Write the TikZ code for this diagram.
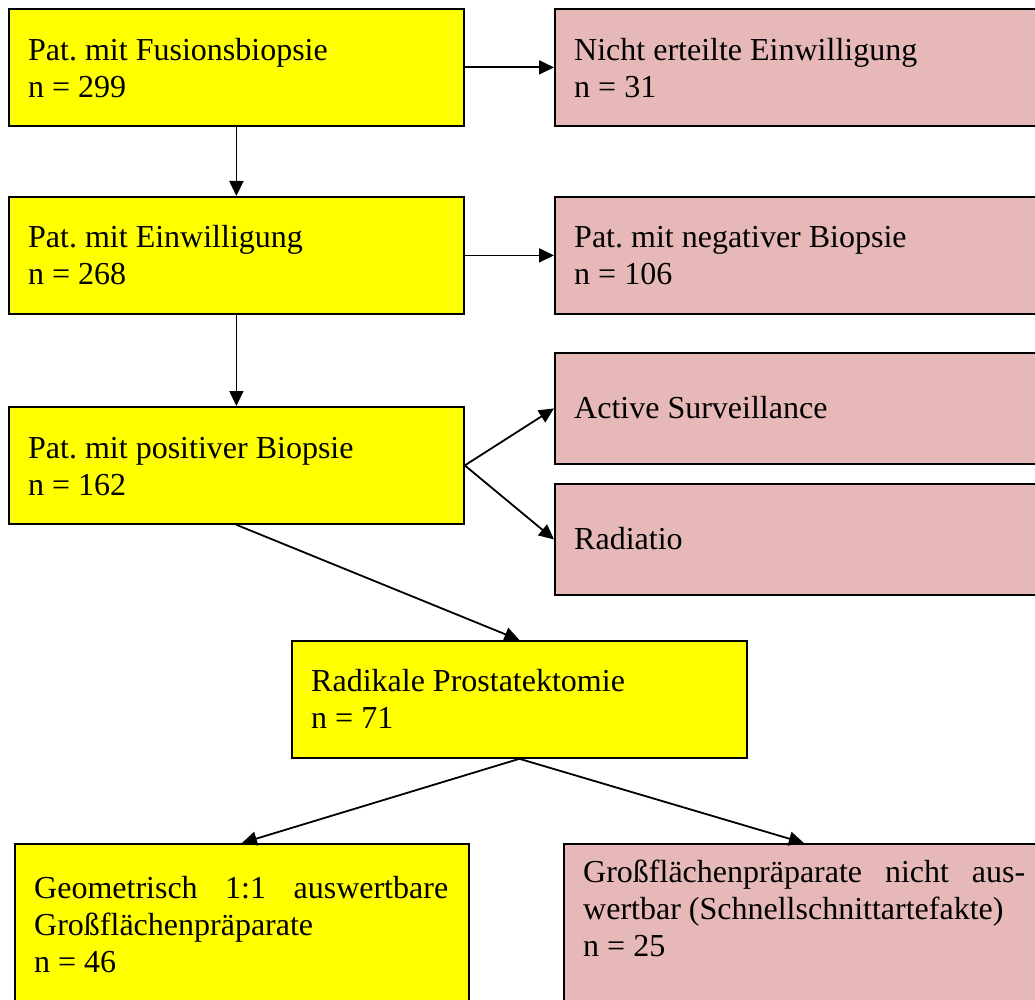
\documentclass[tikz,border=0pt]{standalone}
\usepackage{fontspec}
\setmainfont{Liberation Serif}
\usetikzlibrary{arrows.meta}
\definecolor{boxyellow}{HTML}{FFFF00}
\definecolor{boxpink}{HTML}{E6B8B7}
\newcommand{\plainsp}{\frenchspacing\spaceskip=0pt\xspaceskip=0pt\strut}
\begin{document}
\begin{tikzpicture}[x=1pt,y=-1pt,
  box/.style={draw=black, line width=1.8pt, anchor=north west, inner sep=0pt, minimum height=117pt},
  ybox/.style={box, fill=boxyellow, minimum width=455pt},
  pbox/.style={box, fill=boxpink, minimum width=491pt},
  txt/.style={anchor=north west, inner sep=0pt, align=left, text width=440pt, font=\fontsize{32pt}{37pt}\selectfont},
  arr/.style={line width=1.8pt, -{Triangle[length=15pt,width=14pt]}}]
\useasboundingbox (0,0) rectangle (1035,1000);
\clip (0,0) rectangle (1035,1000);
% boxes
\node[ybox] (b1) at (8,8) {};
\node[pbox] (b2) at (554,8) {};
\node[ybox] (b3) at (8,196) {};
\node[pbox] (b4) at (554,196) {};
\node[ybox] (b5) at (8,406) {};
\node[pbox, minimum height=111pt] (b6) at (554,352) {};
\node[pbox, minimum height=111pt] (b7) at (554,483) {};
\node[ybox] (b8) at (291,640) {};
\node[ybox, minimum width=454pt, minimum height=172pt] (b9) at (14,843) {};
\node[pbox, minimum width=480pt, minimum height=172pt] (b10) at (563,843) {};
% texts (first baseline minus 25.9pt strut height)
\node[txt] (t1) at (28,34.1) {\plainsp Pat. mit Fusionsbiopsie\\n = 299};
\node[txt] (t2) at (574,34.1) {\plainsp Nicht erteilte Einwilligung\\n = 31};
\node[txt] (t3) at (28,221.1) {\plainsp Pat. mit Einwilligung\\n = 268};
\node[txt] (t4) at (574,221.1) {\plainsp Pat. mit negativer Biopsie\\n = 106};
\node[txt] (t5) at (28,432.1) {\plainsp Pat. mit positiver Biopsie\\n = 162};
\node[txt] (t6) at (574,392.1) {\plainsp Active Surveillance};
\node[txt] (t7) at (574,523.1) {\plainsp Radiatio};
\node[txt] (t8) at (311,665.1) {\plainsp Radikale Prostatektomie\\n = 71};
\node[txt, text width=414pt] (t9) at (34,872.1) {\plainsp Geometrisch\hfill 1:1\hfill auswertbare\\Großflächenpräparate\\n = 46};
\node[txt, text width=442pt] (t10) at (583,856.1) {\plainsp Großflächenpräparate\hfill nicht\hfill aus-\\wertbar (Schnellschnittartefakte)\\n = 25};
% connectors
\draw[arr] (b1.east) -- (b2.west);
\draw[arr] (b1.south) -- (b3.north);
\draw[arr] (b3.east) -- (b4.west);
\draw[arr] (b3.south) -- (b5.north);
\draw[arr] (b5.east) -- (b6.west);
\draw[arr] (b5.east) -- (b7.west);
\draw[arr] (b5.south) -- (b8.north);
\draw[arr] (b8.south) -- (b9.north);
\draw[arr] (b8.south) -- (b10.north);
\end{tikzpicture}
\end{document}
